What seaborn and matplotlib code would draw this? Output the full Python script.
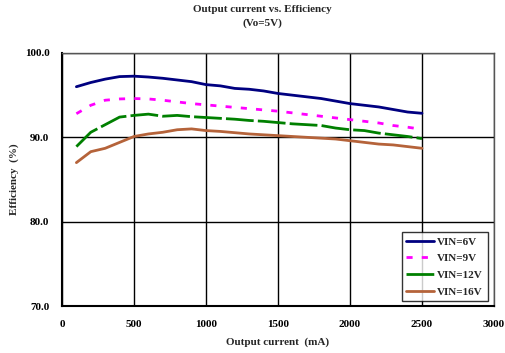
import matplotlib
matplotlib.use("Agg")
import matplotlib.pyplot as plt
import seaborn as sns
import pandas as pd

current_ma = [100, 200, 300, 400, 500, 600, 700, 800, 900, 1000, 1100, 1200, 1300,
              1400, 1500, 1600, 1700, 1800, 1900, 2000, 2100, 2200, 2300, 2400, 2500]
eff_6v = [96.0, 96.5, 96.9, 97.2, 97.25, 97.15, 97.0, 96.8, 96.6, 96.25, 96.1, 95.8, 95.7,
          95.5, 95.2, 95.0, 94.8, 94.6, 94.3, 94.0, 93.8, 93.6, 93.3, 93.0, 92.85]
eff_9v = [92.8, 93.8, 94.4, 94.55, 94.6, 94.55, 94.4, 94.2, 94.0, 93.85, 93.7, 93.55, 93.4,
          93.25, 93.1, 92.9, 92.7, 92.5, 92.3, 92.1, 91.9, 91.7, 91.4, 91.2, 90.95]
eff_12v = [88.9, 90.6, 91.5, 92.4, 92.6, 92.75, 92.5, 92.6, 92.45, 92.35, 92.25, 92.15, 92.0,
           91.9, 91.75, 91.6, 91.5, 91.4, 91.1, 90.9, 90.8, 90.5, 90.3, 90.1, 89.85]
eff_16v = [87.0, 88.3, 88.7, 89.4, 90.1, 90.4, 90.6, 90.9, 91.0, 90.8, 90.7, 90.55, 90.4,
           90.3, 90.2, 90.1, 90.0, 89.9, 89.8, 89.6, 89.4, 89.2, 89.1, 88.9, 88.7]
series_names = ["VIN=6V", "VIN=9V", "VIN=12V", "VIN=16V"]
x_ticks = [0, 500, 1000, 1500, 2000, 2500, 3000]
y_ticks = [70.0, 80.0, 90.0, 100.0]

frames = []
for name, vals in zip(series_names, [eff_6v, eff_9v, eff_12v, eff_16v]):
    frames.append(pd.DataFrame({"current": current_ma, "eff": vals, "series": name}))
df = pd.concat(frames, ignore_index=True)

sns.set_style("white")
plt.rcParams["font.family"] = ["Liberation Serif", "DejaVu Serif"]
plt.rcParams["font.weight"] = "bold"

fig = plt.figure(figsize=(5.06, 3.53), dpi=100)
ax = fig.add_axes([0.1225, 0.1331, 0.8538, 0.7168])

palette = {"VIN=6V": "#000080", "VIN=9V": "#FF00FF", "VIN=12V": "#008000", "VIN=16V": "#B5633A"}
dashes = {"VIN=6V": "", "VIN=9V": (2.2, 3.3), "VIN=12V": (10, 1.5), "VIN=16V": ""}
sns.lineplot(data=df, x="current", y="eff", hue="series", style="series",
             palette=palette, dashes=dashes, linewidth=2.0, ax=ax,
             hue_order=series_names, style_order=series_names)

ax.set_xlim(0, 3000)
ax.set_ylim(70, 100)
ax.set_xticks(x_ticks)
ax.set_yticks(y_ticks)
ax.set_xticklabels([str(t) for t in x_ticks], fontsize=8, fontweight="bold")
ax.set_yticklabels([f"{t:.1f}" for t in y_ticks], fontsize=8, fontweight="bold")
ax.tick_params(axis="y", length=3, width=1, direction="out", pad=6, colors="black")
ax.tick_params(axis="x", length=0, pad=10, colors="black")
ax.grid(True, color="black", linewidth=1)
for s in ax.spines.values():
    s.set_visible(True)
    s.set_color("black")
    s.set_linewidth(1)
ax.spines["left"].set_linewidth(1.5)
ax.spines["bottom"].set_linewidth(1.5)
ax.spines["right"].set_color("#555555")
ax.spines["top"].set_color("#555555")

ax.set_xlabel("Output current  (mA)", fontsize=8, fontweight="bold", labelpad=6)
ax.set_ylabel("Efficiency  (%)", fontsize=8, fontweight="bold", labelpad=4)
fig.suptitle("Output current vs. Efficiency\n(Vo=5V)", fontsize=8, fontweight="bold",
             x=0.518, y=0.985, linespacing=1.6)

leg = ax.legend(loc="lower right", bbox_to_anchor=(0.985, 0.02), fontsize=8, frameon=True,
                fancybox=False, edgecolor="black", handlelength=2.5, handletextpad=0.3,
                labelspacing=0.62, borderpad=0.4, borderaxespad=0)
leg.get_frame().set_linewidth(1)
for t in leg.get_texts():
    t.set_fontweight("bold")

fig.savefig("out.png", dpi=100)
